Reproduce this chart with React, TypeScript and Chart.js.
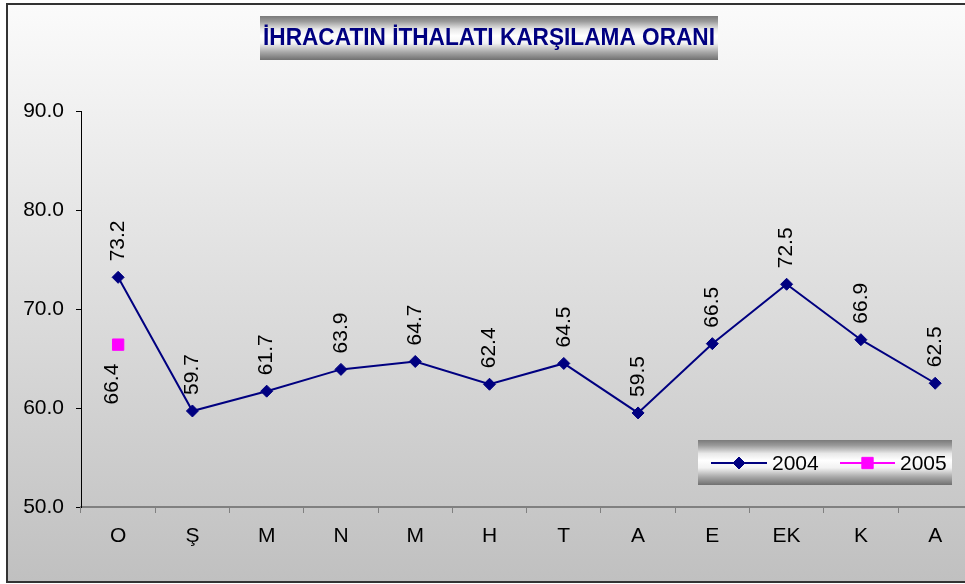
import React, { useEffect, useRef } from "react";
import { Chart, registerables } from "chart.js";

Chart.register(...registerables);

const titleText = "İHRACATIN İTHALATI KARŞILAMA ORANI";
const categories = ["O", "Ş", "M", "N", "M", "H", "T", "A", "E", "EK", "K", "A"];
const series2004 = [73.2, 59.7, 61.7, 63.9, 64.7, 62.4, 64.5, 59.5, 66.5, 72.5, 66.9, 62.5];
const series2005: (number | null)[] = [66.4, null, null, null, null, null, null, null, null, null, null, null];
const seriesLabels = ["2004", "2005"];
const yMin = 50;
const yMax = 90;
const yStep = 10;

const FONT = "Arial, 'Liberation Sans', sans-serif";
const FS = 21;

function bandGradient(ctx: CanvasRenderingContext2D, y0: number, y1: number) {
  const g = ctx.createLinearGradient(0, y0, 0, y1);
  g.addColorStop(0, "#7a7a7a");
  g.addColorStop(0.12, "#9a9a9a");
  g.addColorStop(0.3, "#e8e8e8");
  g.addColorStop(0.45, "#ffffff");
  g.addColorStop(0.62, "#f2f2f2");
  g.addColorStop(0.82, "#a8a8a8");
  g.addColorStop(1, "#707070");
  return g;
}

const decorPlugin = {
  id: "decor",
  beforeDraw(chart: any) {
    const ctx: CanvasRenderingContext2D = chart.ctx;
    const W = chart.width;
    const H = chart.height;
    ctx.save();
    const bg = ctx.createLinearGradient(0, 4, 0, H - 2);
    bg.addColorStop(0, "#fbfbfb");
    bg.addColorStop(1, "#c0c0c0");
    ctx.fillStyle = bg;
    ctx.fillRect(7, 4, W - 7, H - 6);
    ctx.strokeStyle = "#333333";
    ctx.lineWidth = 2;
    ctx.strokeRect(7, 4, W - 7 + 20, H - 6);

    // title box
    const tx0 = 260, tx1 = 718, ty0 = 16, ty1 = 60;
    ctx.fillStyle = bandGradient(ctx, ty0, ty1);
    ctx.fillRect(tx0, ty0, tx1 - tx0, ty1 - ty0);
    ctx.fillStyle = "#000080";
    ctx.font = `bold 23px ${FONT}`;
    ctx.textAlign = "center";
    ctx.textBaseline = "middle";
    ctx.fillText(titleText, (tx0 + tx1) / 2, 39, 452);
    ctx.restore();
  },
  afterDatasetsDraw(chart: any) {
    const ctx: CanvasRenderingContext2D = chart.ctx;
    ctx.save();
    ctx.font = `${FS}px ${FONT}`;
    ctx.fillStyle = "#000000";
    ctx.textBaseline = "middle";
    chart.data.datasets.forEach((ds: any, di: number) => {
      const meta = chart.getDatasetMeta(di);
      meta.data.forEach((pt: any, i: number) => {
        const v = ds.data[i];
        if (v === null || v === undefined) return;
        ctx.save();
        if (di === 0) {
          ctx.translate(pt.x, pt.y - 16);
          ctx.rotate(-Math.PI / 2);
          ctx.textAlign = "left";
          ctx.fillText(v.toFixed(1), 0, 0);
        } else {
          ctx.translate(pt.x - 6, pt.y + 19);
          ctx.rotate(-Math.PI / 2);
          ctx.textAlign = "right";
          ctx.fillText(v.toFixed(1), 0, 0);
        }
        ctx.restore();
      });
    });
    ctx.restore();
  },
  afterDraw(chart: any) {
    const ctx: CanvasRenderingContext2D = chart.ctx;
    ctx.save();
    const lx0 = 698, lx1 = 952, ly0 = 440, ly1 = 485;
    ctx.fillStyle = bandGradient(ctx, ly0, ly1);
    ctx.fillRect(lx0, ly0, lx1 - lx0, ly1 - ly0);
    const cy = 463;
    const items = [
      { x0: 711, x1: 767, tx: 772, color: "#000080", style: "rectRot", r: 6 },
      { x0: 840, x1: 895, tx: 900, color: "#ff00ff", style: "rect", r: 8 },
    ];
    items.forEach((it, i) => {
      ctx.strokeStyle = it.color;
      ctx.lineWidth = 2;
      ctx.beginPath();
      ctx.moveTo(it.x0, cy);
      ctx.lineTo(it.x1, cy);
      ctx.stroke();
      ctx.fillStyle = it.color;
      ctx.strokeStyle = it.color;
      ctx.lineWidth = 1;
      const mx = (it.x0 + it.x1) / 2;
      ctx.beginPath();
      if (it.style === "rectRot") {
        ctx.moveTo(mx, cy - it.r);
        ctx.lineTo(mx + it.r, cy);
        ctx.lineTo(mx, cy + it.r);
        ctx.lineTo(mx - it.r, cy);
        ctx.closePath();
      } else {
        const s = it.r * Math.SQRT1_2;
        ctx.rect(mx - s, cy - s, 2 * s, 2 * s);
      }
      ctx.fill();
      ctx.stroke();
      ctx.fillStyle = "#000000";
      ctx.font = `${FS}px ${FONT}`;
      ctx.textAlign = "left";
      ctx.textBaseline = "middle";
      ctx.fillText(seriesLabels[i], it.tx, cy + 1);
    });
    ctx.restore();
  },
};

export default function App() {
  const ref = useRef<HTMLCanvasElement>(null);
  useEffect(() => {
    if (!ref.current) return;
    const chart = new Chart(ref.current, {
      type: "line",
      data: {
        labels: categories,
        datasets: [
          {
            label: seriesLabels[0],
            data: series2004,
            borderColor: "#000080",
            backgroundColor: "#000080",
            borderWidth: 2,
            pointStyle: "rectRot",
            pointRadius: 6,
            pointBorderWidth: 1,
            tension: 0,
          },
          {
            label: seriesLabels[1],
            data: series2005,
            borderColor: "#ff00ff",
            backgroundColor: "#ff00ff",
            borderWidth: 2,
            pointStyle: "rect",
            pointRadius: 8,
            pointBorderWidth: 1,
            tension: 0,
          },
        ],
      },
      options: {
        responsive: false,
        animation: false,
        devicePixelRatio: 1,
        clip: false as any,
        layout: { padding: { left: 0, top: 111, right: 17.7, bottom: 0 } },
        plugins: {
          legend: { display: false },
          title: { display: false },
          tooltip: { enabled: false },
        },
        scales: {
          x: {
            type: "category",
            offset: true,
            afterFit: (s: any) => {
              s.height = 77;
            },
            grid: {
              display: true,
              offset: true,
              drawOnChartArea: false,
              drawTicks: true,
              tickLength: 6,
              color: "#808080",
            },
            border: { display: true, color: "#808080", width: 2 },
            ticks: {
              color: "#000000",
              font: { family: FONT, size: FS },
              padding: 11,
              maxRotation: 0,
              autoSkip: false,
            },
          },
          y: {
            min: yMin,
            max: yMax,
            afterFit: (s: any) => {
              s.width = 81;
            },
            grid: {
              display: true,
              drawOnChartArea: false,
              drawTicks: true,
              tickLength: 5,
              color: "#000000",
            },
            border: { display: true, color: "#000000", width: 1 },
            ticks: {
              stepSize: yStep,
              color: "#000000",
              font: { family: FONT, size: FS },
              padding: 12,
              callback: (v: any) => Number(v).toFixed(1),
            },
          },
        },
      },
      plugins: [decorPlugin],
    });
    return () => chart.destroy();
  }, []);
  return (
    <div style={{ position: "fixed", left: 0, top: 0, width: 965, height: 584, overflow: "hidden" }}>
      <canvas ref={ref} width={990} height={584} style={{ display: "block", width: 990, height: 584 }} />
    </div>
  );
}
